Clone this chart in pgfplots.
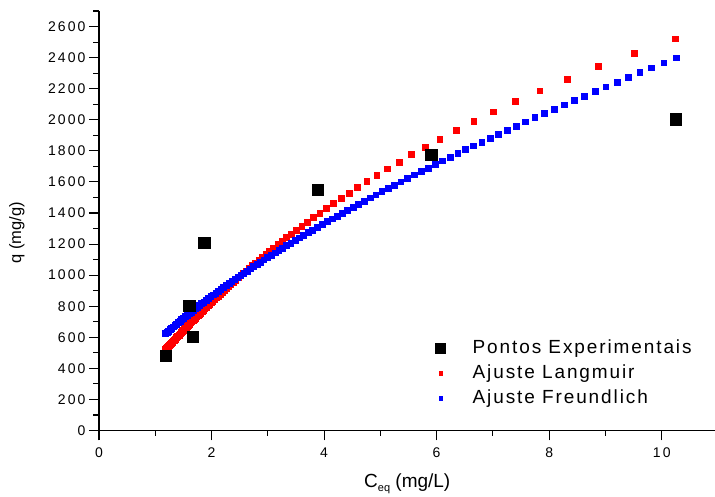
\documentclass[border=0pt]{standalone}
\usepackage{fontspec}
\setmainfont{Liberation Sans}
\newfontfamily\tickfont[LetterSpace=15]{Liberation Sans}
\newfontfamily\legfont[LetterSpace=10]{Liberation Sans}
\usepackage{pgfplots}
\pgfplotsset{compat=1.18}
\begin{document}
\begin{tikzpicture}
\begin{axis}[
  at={(0pt,0pt)}, anchor=south west,
  scale only axis, width=619pt, height=419.5pt,
  xmin=0, xmax=11, ymin=0, ymax=2700,
  axis x line=bottom, axis y line=left,
  axis line style={-, line width=1.3pt, black},
  xtick={0,2,...,10}, ytick={0,200,...,2600},
  minor xtick={1,3,...,11}, minor ytick={100,300,...,2700},
  tick align=outside, major tick length=10pt, minor tick length=5.5pt,
  every tick/.style={black, line width=1.1pt},
  /pgf/number format/assume math mode=true,
  /pgf/number format/1000 sep={},
  tick label style={font=\tickfont\fontsize{14}{16}\selectfont},
  xticklabel style={yshift=-4pt},
  xlabel={C\raisebox{-0.4ex}{\fontsize{11}{11}\selectfont eq} (mg/L)},
  ylabel={q (mg/g)},
  xlabel style={font=\fontsize{19}{22}\selectfont, at={(axis description cs:0.498,-0.137)}, anchor=base},
  ylabel style={font=\fontsize{16.5}{20}\selectfont, at={(axis description cs:-0.1325,0.471)}, anchor=center},
  legend style={draw=none, fill=none, at={(axis description cs:0.538,0.218)}, anchor=north west,
    inner sep=0pt, row sep=7pt, font=\legfont\fontsize{19}{22}\selectfont,
    nodes={inner sep=0pt, text height=14pt, text depth=4pt, anchor=west}},
  legend cell align=left,
]
\addlegendimage{legend image code/.code={\fill[black] (3pt,-5pt) rectangle (13pt,5pt); \path (0pt,0pt) (40pt,0pt);}}
\addlegendentry{Pontos Experimentais}
\addlegendimage{legend image code/.code={\fill[red] (6.3pt,-1.7pt) rectangle (9.7pt,1.7pt); \path (0pt,0pt) (40pt,0pt);}}
\addlegendentry{Ajuste Langmuir}
\addlegendimage{legend image code/.code={\fill[blue] (6.3pt,-1.7pt) rectangle (9.7pt,1.7pt); \path (0pt,0pt) (40pt,0pt);}}
\addlegendentry{Ajuste Freundlich}

% Langmuir fit
\addplot[forget plot, only marks, color=red, mark=square*, mark size=2.9pt, mark options={line width=0.1pt}] coordinates {
(10.230,2522.5) (9.501,2429.8) (8.869,2343.7) (8.316,2263.4) (7.828,2188.5)
(7.394,2118.4) (7.005,2052.7) (6.656,1990.8) (6.339,1932.6) (6.051,1877.8)
(5.789,1825.9) (5.548,1776.8) (5.326,1730.3) (5.122,1686.2) (4.932,1644.3)
(4.756,1604.4) (4.592,1566.4) (4.440,1530.1) (4.296,1495.5) (4.162,1462.4)
(4.036,1430.8) (3.918,1400.5) (3.806,1371.4) (3.700,1343.6) (3.600,1316.8)
(3.506,1291.1) (3.416,1266.4) (3.331,1242.6) (3.249,1219.6) (3.172,1197.6)
(3.098,1176.3) (3.028,1155.7) (2.961,1135.8) (2.896,1116.7) (2.835,1098.1)
(2.776,1080.2) (2.719,1062.8) (2.665,1046.0) (2.613,1029.7) (2.562,1013.9)
(2.514,998.6) (2.468,983.8) (2.423,969.3) (2.380,955.3) (2.338,941.7)
(2.298,928.5) (2.259,915.6) (2.221,903.1) (2.185,891.0) (2.149,879.1)
(2.115,867.6) (2.082,856.3) (2.050,845.4) (2.019,834.7) (1.989,824.3)
(1.960,814.2) (1.931,804.3) (1.904,794.6) (1.877,785.2) (1.851,776.0)
(1.826,766.9) (1.801,758.2) (1.777,749.6) (1.754,741.2) (1.731,732.9)
(1.709,724.9) (1.687,717.0) (1.666,709.4) (1.645,701.8) (1.625,694.5)
(1.606,687.2) (1.587,680.2) (1.568,673.2) (1.550,666.4) (1.532,659.8)
(1.515,653.3) (1.498,646.9) (1.481,640.6) (1.465,634.5) (1.449,628.4)
(1.433,622.5) (1.418,616.7) (1.403,611.0) (1.388,605.4) (1.374,599.9)
(1.360,594.5) (1.346,589.2) (1.333,584.0) (1.320,578.9) (1.307,573.9)
(1.294,569.0) (1.282,564.1) (1.269,559.3) (1.257,554.6) (1.246,550.0)
(1.234,545.5) (1.223,541.0) (1.212,536.6) (1.201,532.3) (1.190,528.1)
(1.180,523.9)
};

% Freundlich fit
\addplot[forget plot, only marks, color=blue, mark=square*, mark size=2.9pt, mark options={line width=0.1pt}] coordinates {
(1.1800,625.0) (1.2058,633.5) (1.2321,642.0) (1.2591,650.7) (1.2866,659.6)
(1.3147,668.5) (1.3434,677.5) (1.3728,686.7) (1.4028,696.0) (1.4334,705.5)
(1.4648,715.0) (1.4968,724.7) (1.5295,734.5) (1.5629,744.5) (1.5971,754.5)
(1.6320,764.8) (1.6676,775.1) (1.7041,785.6) (1.7413,796.3) (1.7794,807.1)
(1.8182,818.0) (1.8580,829.1) (1.8986,840.3) (1.9401,851.7) (1.9825,863.2)
(2.0258,874.9) (2.0701,886.8) (2.1153,898.8) (2.1615,911.0) (2.2088,923.3)
(2.2570,935.8) (2.3063,948.5) (2.3567,961.3) (2.4082,974.3) (2.4609,987.5)
(2.5147,1000.9) (2.5696,1014.5) (2.6258,1028.2) (2.6831,1042.2) (2.7418,1056.3)
(2.8017,1070.6) (2.8629,1085.1) (2.9255,1099.8) (2.9894,1114.7) (3.0547,1129.8)
(3.1215,1145.1) (3.1897,1160.6) (3.2594,1176.3) (3.3306,1192.2) (3.4034,1208.4)
(3.4778,1224.8) (3.5538,1241.4) (3.6315,1258.2) (3.7108,1275.2) (3.7919,1292.5)
(3.8748,1310.0) (3.9595,1327.7) (4.0460,1345.7) (4.1344,1364.0) (4.2248,1382.4)
(4.3171,1401.2) (4.4114,1420.1) (4.5078,1439.4) (4.6063,1458.9) (4.7070,1478.6)
(4.8099,1498.7) (4.9150,1519.0) (5.0224,1539.5) (5.1321,1560.4) (5.2443,1581.5)
(5.3589,1602.9) (5.4760,1624.7) (5.5957,1646.7) (5.7180,1669.0) (5.8429,1691.6)
(5.9706,1714.5) (6.1011,1737.7) (6.2344,1761.3) (6.3706,1785.1) (6.5099,1809.3)
(6.6521,1833.8) (6.7975,1858.6) (6.9460,1883.8) (7.0978,1909.3) (7.2529,1935.2)
(7.4114,1961.4) (7.5734,1988.0) (7.7389,2014.9) (7.9080,2042.2) (8.0808,2069.9)
(8.2574,2097.9) (8.4379,2126.3) (8.6223,2155.1) (8.8107,2184.3) (9.0032,2213.9)
(9.2000,2243.9) (9.4010,2274.3) (9.6065,2305.1) (9.8164,2336.3) (10.0309,2368.0)
(10.2501,2400.0)
};

% experimental points
\addplot[forget plot, only marks, color=black, mark=square*, mark size=5.7pt, mark options={line width=0.1pt}] coordinates {
(1.18,483) (1.60,805) (1.66,603) (1.865,1210) (3.88,1550) (5.90,1777) (10.25,2004)
};
\end{axis}
\pgfresetboundingbox
\path (-99pt,-66.5pt) rectangle (616pt,430.5pt);
\end{tikzpicture}
\end{document}
